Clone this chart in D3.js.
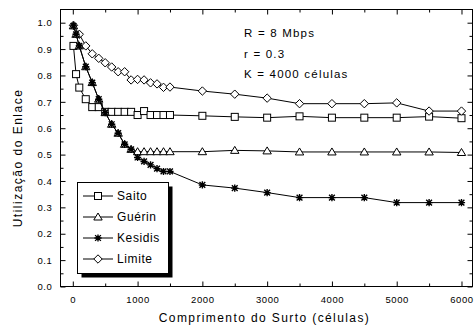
<!DOCTYPE html>
<html>
<head>
<meta charset="utf-8">
<script src="https://cdn.jsdelivr.net/npm/d3@7/dist/d3.min.js"></script>
<style>
  html, body { margin: 0; padding: 0; background: #fff; }
  svg { display: block; font-family: "Liberation Sans", Arial, sans-serif; }
</style>
</head>
<body>
<svg id="chart" width="475" height="329"></svg>
<script>
// ---- data ----
const burstA = [10,50,100,200,300,400,500,600,700,800,900,1000,1100,1200,1300,1400,1500,2000,2500,3000,3500,4000,4500,5000,5500,6000];
const saito = [0.912,0.805,0.754,0.710,0.680,0.680,0.662,0.662,0.662,0.662,0.662,0.650,0.665,0.650,0.650,0.650,0.650,
               0.647,0.643,0.640,0.645,0.640,0.640,0.640,0.644,0.638];
const guerin = [0.988,0.956,0.912,0.833,0.773,0.710,0.659,0.615,0.581,0.539,0.520,0.511,0.511,0.511,0.511,0.511,0.511,
                0.511,0.516,0.514,0.510,0.510,0.510,0.510,0.510,0.508];
const kesidis = [0.988,0.956,0.912,0.833,0.773,0.710,0.659,0.615,0.581,0.539,0.520,0.489,0.474,0.461,0.447,0.436,0.436,
                 0.385,0.373,0.356,0.337,0.337,0.337,0.318,0.318,0.318];
const burstL = [10,100,200,300,400,500,600,700,800,900,1000,1100,1200,1300,1400,1500,2000,2500,3000,3500,4000,4500,5000,5500,6000];
const limite = [0.990,0.956,0.912,0.882,0.865,0.848,0.832,0.814,0.814,0.783,0.785,0.783,0.772,0.768,0.755,0.756,
                0.741,0.729,0.714,0.693,0.693,0.693,0.696,0.665,0.665];
const seriesNames = ["Saito", "Guérin", "Kesidis", "Limite"];
const xTicks = [0,1000,2000,3000,4000,5000,6000];
const yTicks = [0.0,0.1,0.2,0.3,0.4,0.5,0.6,0.7,0.8,0.9,1.0];
const annotations = ["R = 8 Mbps", "r = 0.3", "K = 4000 células"];
const xTitle = "Comprimento do Surto (células)";
const yTitle = "Utilização do Enlace";

// ---- layout ----
const svg = d3.select("#chart");
const L = 60.5, R = 472.5, T = 9.5, B = 286.5;
const x = d3.scaleLinear().domain([-190, 6170]).range([L, R]);
const y = d3.scaleLinear().domain([0, 1.05]).range([B, T]);

// frame
svg.append("rect").attr("x", L).attr("y", T).attr("width", R - L).attr("height", B - T)
  .attr("fill", "none").attr("stroke", "#000").attr("stroke-width", 1);

const minorX = d3.range(0, 6001, 500).filter(v => v % 1000 !== 0);
const minorY = d3.range(0.05, 1.05, 0.1);

// axes with inward ticks
function xAxis(g, orient) {
  const ax = (orient === "bottom" ? d3.axisBottom(x) : d3.axisTop(x));
  g.call(ax.tickValues(xTicks).tickSize(-5).tickFormat(orient === "bottom" ? d3.format("d") : ""));
  g.select(".domain").remove();
}
const gxB = svg.append("g").attr("transform", `translate(0,${B})`).call(g => xAxis(g, "bottom"));
const gxT = svg.append("g").attr("transform", `translate(0,${T})`).call(g => xAxis(g, "top"));
const gxBm = svg.append("g").attr("transform", `translate(0,${B})`)
  .call(d3.axisBottom(x).tickValues(minorX).tickSize(-3).tickFormat("")).call(g => g.select(".domain").remove());
const gxTm = svg.append("g").attr("transform", `translate(0,${T})`)
  .call(d3.axisTop(x).tickValues(minorX).tickSize(-3).tickFormat("")).call(g => g.select(".domain").remove());

const gyL = svg.append("g").attr("transform", `translate(${L},0)`)
  .call(d3.axisLeft(y).tickValues(yTicks).tickSize(-5).tickFormat(d3.format(".1f")))
  .call(g => g.select(".domain").remove());
const gyR = svg.append("g").attr("transform", `translate(${R},0)`)
  .call(d3.axisRight(y).tickValues(yTicks).tickSize(-5).tickFormat(""))
  .call(g => g.select(".domain").remove());
const gyLm = svg.append("g").attr("transform", `translate(${L},0)`)
  .call(d3.axisLeft(y).tickValues(minorY).tickSize(-3).tickFormat(""))
  .call(g => g.select(".domain").remove());
const gyRm = svg.append("g").attr("transform", `translate(${R},0)`)
  .call(d3.axisRight(y).tickValues(minorY).tickSize(-3).tickFormat(""))
  .call(g => g.select(".domain").remove());

svg.selectAll(".tick line").attr("stroke", "#000");
gxB.selectAll(".tick text").attr("y", 10).attr("dy", "0.71em")
  .attr("font-size", 9.5).attr("fill", "#000").style("letter-spacing", "0.6px")
  .attr("font-family", "Liberation Sans, Arial, sans-serif");
gyL.selectAll(".tick text").attr("x", -8).attr("dy", "0.34em")
  .attr("font-size", 9.5).attr("fill", "#000").style("letter-spacing", "0.6px")
  .attr("font-family", "Liberation Sans, Arial, sans-serif");

// titles
svg.append("text").attr("x", (L + R) / 2 - 2).attr("y", 322).attr("text-anchor", "middle")
  .attr("font-size", 12).style("letter-spacing", "1.4px").text(xTitle);
svg.append("text").attr("transform", `translate(22,158) rotate(-90)`).attr("text-anchor", "middle")
  .attr("font-size", 12).style("letter-spacing", "1.5px").text(yTitle);

// annotations
svg.selectAll(".ann").data(annotations).join("text").attr("class", "ann")
  .attr("x", 244).attr("y", (d, i) => 37 + i * 20.6)
  .attr("font-size", 11.5).style("letter-spacing", "1.2px").text(d => d);

// ---- markers ----
function drawMarker(g, type, cx, cy) {
  if (type === "square") {
    g.append("rect").attr("x", cx - 3.5).attr("y", cy - 3.5).attr("width", 7).attr("height", 7)
      .attr("fill", "#fff").attr("stroke", "#000").attr("stroke-width", 1);
  } else if (type === "triangle") {
    g.append("path").attr("d", `M${cx},${cy - 4}L${cx + 4.2},${cy + 3}L${cx - 4.2},${cy + 3}Z`)
      .attr("fill", "#fff").attr("stroke", "#000").attr("stroke-width", 1);
  } else if (type === "diamond") {
    g.append("path").attr("d", `M${cx},${cy - 4.2}L${cx + 4.2},${cy}L${cx},${cy + 4.2}L${cx - 4.2},${cy}Z`)
      .attr("fill", "#fff").attr("stroke", "#000").attr("stroke-width", 1);
  } else if (type === "star") {
    const r = 3.6;
    const d = `M${cx - r},${cy}L${cx + r},${cy}M${cx},${cy - r}L${cx},${cy + r}` +
              `M${cx - r * 0.8},${cy - r * 0.8}L${cx + r * 0.8},${cy + r * 0.8}` +
              `M${cx - r * 0.8},${cy + r * 0.8}L${cx + r * 0.8},${cy - r * 0.8}`;
    g.append("path").attr("d", d).attr("stroke", "#000").attr("stroke-width", 1.4).attr("fill", "none");
    g.append("circle").attr("cx", cx).attr("cy", cy).attr("r", 1.6).attr("fill", "#000");
  }
}

const series = [
  { name: seriesNames[0], xs: burstA, ys: saito, marker: "square" },
  { name: seriesNames[1], xs: burstA, ys: guerin, marker: "triangle" },
  { name: seriesNames[2], xs: burstA, ys: kesidis, marker: "star" },
  { name: seriesNames[3], xs: burstL, ys: limite, marker: "diamond" }
];

// draw order: Kesidis on top of the others
const drawOrder = [0, 3, 1, 2];
const line = d3.line().x(d => x(d[0])).y(d => y(d[1]));
drawOrder.forEach(k => {
  const s = series[k];
  const pts = s.xs.map((v, i) => [v, s.ys[i]]);
  const g = svg.append("g");
  g.append("path").attr("d", line(pts)).attr("fill", "none").attr("stroke", "#000").attr("stroke-width", 1);
  pts.forEach(p => drawMarker(g, s.marker, x(p[0]), y(p[1])));
});

// ---- legend ----
const lg = svg.append("g");
const lx = 77.5, ly = 182.5, lw = 91, lh = 91;
lg.append("rect").attr("x", lx + 4).attr("y", ly + 4).attr("width", lw).attr("height", lh).attr("fill", "#000");
lg.append("rect").attr("x", lx).attr("y", ly).attr("width", lw).attr("height", lh)
  .attr("fill", "#fff").attr("stroke", "#000").attr("stroke-width", 1);
series.forEach((s, i) => {
  const ry = 196 + i * 21;
  lg.append("line").attr("x1", 83).attr("x2", 113).attr("y1", ry).attr("y2", ry)
    .attr("stroke", "#000").attr("stroke-width", 1);
  drawMarker(lg, s.marker, 98, ry);
  lg.append("text").attr("x", 117).attr("y", ry + 4.3).attr("font-size", 12)
    .style("letter-spacing", "0.6px").text(s.name);
});
</script>
</body>
</html>
